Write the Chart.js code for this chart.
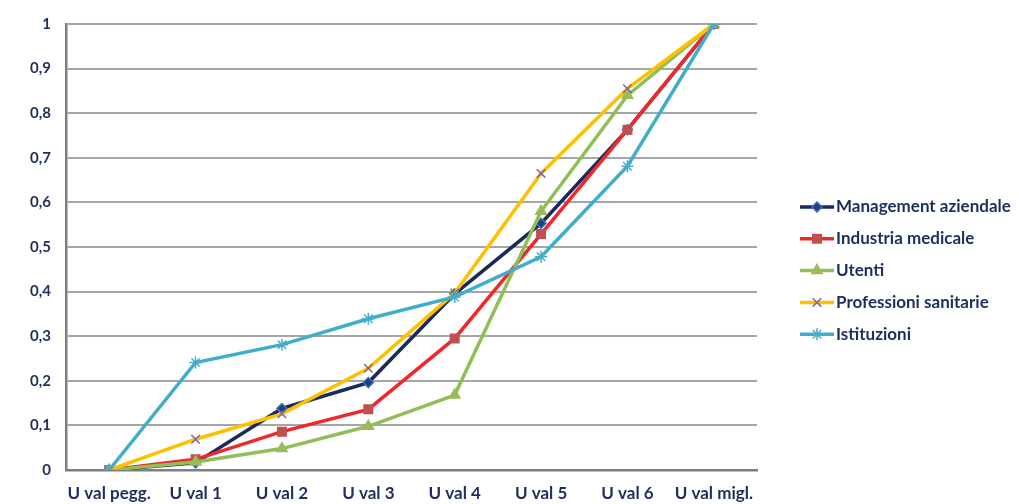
<!DOCTYPE html>
<html>
<head>
<meta charset="utf-8">
<script src="https://cdn.jsdelivr.net/npm/chart.js@4"></script>
<style>
  html, body { margin: 0; padding: 0; background: #fff; }
  #wrap { width: 1019px; height: 504px; }
</style>
</head>
<body>
<div id="wrap"><canvas id="c" width="1019" height="504"></canvas></div>
<script>
const categories = ['U val pegg.', 'U val 1', 'U val 2', 'U val 3', 'U val 4', 'U val 5', 'U val 6', 'U val migl.']
const management = [0, 0.016, 0.138, 0.196, 0.395, 0.553, 0.763, 1]
const industria = [0, 0.024, 0.086, 0.136, 0.295, 0.529, 0.763, 1]
const utenti = [0, 0.018, 0.048, 0.098, 0.168, 0.58, 0.84, 1]
const professioni = [0, 0.069, 0.126, 0.228, 0.397, 0.665, 0.855, 1]
const istituzioni = [0, 0.241, 0.281, 0.339, 0.388, 0.478, 0.681, 1]
const yticks = [0, 0.1, 0.2, 0.3, 0.4, 0.5, 0.6, 0.7, 0.8, 0.9, 1]

const textColor = '#1F2D5C'
const font = 'Lato, "Open Sans", sans-serif'

const series = [
  { label: 'Management aziendale', data: management, line: '#1B2A5A', fill: '#1F3F7A', border: '#3A6FC0', style: 'rectRot', r: 5 },
  { label: 'Industria medicale', data: industria, line: '#F0282A', fill: '#C0504D', border: '#C0504D', style: 'rect', r: 6 },
  { label: 'Utenti', data: utenti, line: '#8FBF55', fill: '#9BBB59', border: '#9BBB59', style: 'triangle', r: 6 },
  { label: 'Professioni sanitarie', data: professioni, line: '#FFC000', fill: '#7F64A2', border: '#7F64A2', style: 'crossRot', r: 6 },
  { label: 'Istituzioni', data: istituzioni, line: '#40AECB', fill: '#4BACC6', border: '#4BACC6', style: 'star', r: 6 }
]

// legend drawn by hand: line + marker like the original
const sideLegend = {
  id: 'sideLegend',
  afterDraw (chart) {
    const ctx = chart.ctx
    ctx.save()
    series.forEach((s, i) => {
      const y = 207 + i * 31.8
      ctx.strokeStyle = s.line
      ctx.lineWidth = 3.5
      ctx.beginPath()
      ctx.moveTo(800, y)
      ctx.lineTo(834, y)
      ctx.stroke()
      ctx.fillStyle = s.fill
      ctx.strokeStyle = s.border
      ctx.lineWidth = 1.5
      Chart.helpers.drawPoint(ctx, { pointStyle: s.style, radius: s.r, rotation: 0, borderWidth: 1.5 }, 817, y)
      ctx.fillStyle = textColor
      ctx.font = 'bold 17px ' + font
      ctx.textBaseline = 'middle'
      ctx.textAlign = 'left'
      ctx.fillText(s.label, 836, y)
    })
    ctx.restore()
  }
}

new Chart(document.getElementById('c').getContext('2d'), {
  type: 'line',
  data: {
    labels: categories,
    datasets: series.map((s, i) => ({
      label: s.label,
      data: s.data,
      borderColor: s.line,
      borderWidth: 3.5,
      pointStyle: s.style,
      pointRadius: s.r,
      pointBackgroundColor: s.fill,
      pointBorderColor: s.border,
      pointBorderWidth: 1.5,
      tension: 0,
      order: series.length - i
    }))
  },
  options: {
    responsive: false,
    animation: false,
    layout: { padding: { top: 22, right: 262, left: 0, bottom: 0 } },
    plugins: {
      legend: { display: false },
      tooltip: { enabled: false }
    },
    scales: {
      x: {
        offset: true,
        grid: { display: false },
        border: { display: true, color: '#7F7F7F', width: 2.5 },
        ticks: {
          color: textColor,
          font: { family: font, size: 17, weight: 'bold' },
          maxRotation: 0,
          padding: 5
        },
        afterFit (s) { s.height = 34 }
      },
      y: {
        min: 0,
        max: 1,
        afterBuildTicks (s) { s.ticks = yticks.map(v => ({ value: v })) },
        grid: { color: '#A6A6A6', lineWidth: 2, drawTicks: false },
        border: { display: true, color: '#7F7F7F', width: 2.5 },
        ticks: {
          color: textColor,
          font: { family: font, size: 15, weight: 'bold' },
          padding: 15,
          callback: v => String(Math.round(v * 10) / 10).replace('.', ',')
        },
        afterFit (s) { s.width = 66 }
      }
    }
  },
  plugins: [sideLegend]
})
</script>
</body>
</html>
